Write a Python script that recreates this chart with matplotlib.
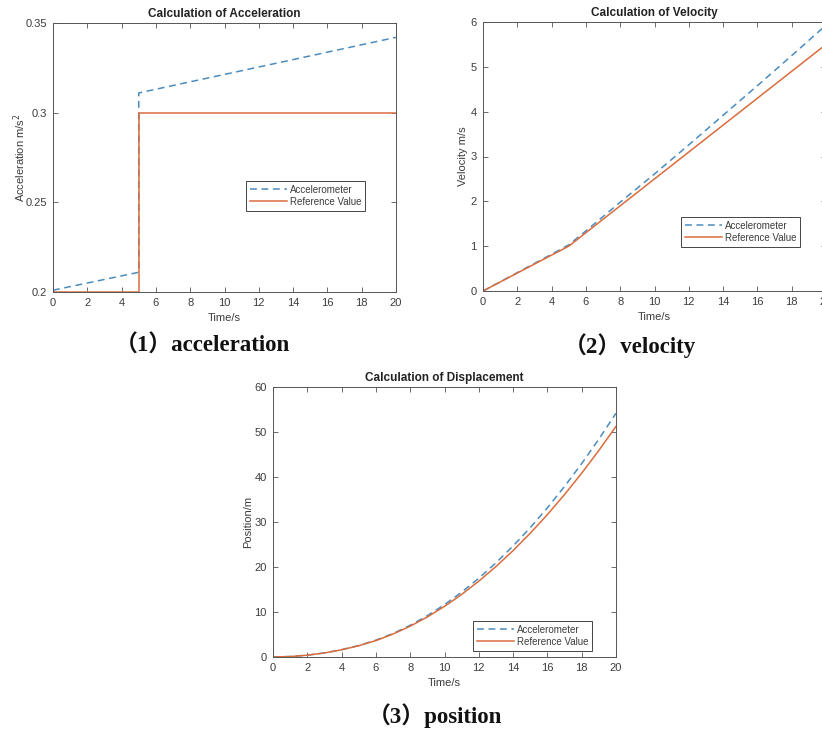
import matplotlib
matplotlib.use("Agg")
import matplotlib.pyplot as plt

W, H, DPI = 822, 729, 100

# ── Palette ──────────────────────────────────────────────────────────
BLUE   = "#4a8cc0"
ORANGE = "#da6c3c"
AX_COL = "#555555"
TXT    = "#3c3c3c"

plt.rcParams["font.family"] = ["Liberation Sans", "DejaVu Sans"]

# ── Data ─────────────────────────────────────────────────────────────
acc_t   = [0, 5, 5, 20]
acc_ref = [0.200, 0.200, 0.300, 0.300]
acc_mea = [0.201, 0.211, 0.311, 0.342]

vel_t   = [0, 2, 4, 5, 6, 8, 10, 12, 14, 16, 18, 20]
vel_ref = [0, 0.40, 0.80, 1.00, 1.30, 1.90, 2.50, 3.10, 3.70, 4.30, 4.90, 5.50]
vel_mea = [0, 0.41, 0.82, 1.03, 1.34, 1.98, 2.61, 3.26, 3.92, 4.58, 5.25, 5.93]

pos_t   = list(range(0, 21))
pos_ref = [0, 0.10, 0.40, 0.90, 1.60, 2.50, 3.65, 5.10, 6.85, 8.90, 11.25,
           13.90, 16.85, 20.10, 23.65, 27.50, 31.65, 36.10, 40.85, 45.90, 51.25]
pos_mea = [0, 0.10, 0.41, 0.91, 1.63, 2.55, 3.74, 5.23, 7.05, 9.18, 11.63,
           14.41, 17.50, 20.92, 24.67, 28.75, 33.16, 37.91, 42.99, 48.41, 54.17]

x_ticks = list(range(0, 21, 2))


def px_box(left, top, right, bottom):
    """pixel box -> figure fraction rect"""
    return [left / W, 1 - bottom / H, (right - left) / W, (bottom - top) / H]


def style_axes(ax, title, ylabel, yticks, ylim, ypad):
    ax.set_xlim(0, 20)
    ax.set_ylim(*ylim)
    ax.set_xticks(x_ticks)
    ax.set_yticks(yticks)
    ax.tick_params(direction="in", length=3.5, width=0.6, colors=AX_COL,
                   labelcolor=TXT, labelsize=8, top=True, right=True, pad=4.5)
    for sp in ax.spines.values():
        sp.set_color(AX_COL)
        sp.set_linewidth(0.7)
    ax.set_title(title, fontsize=8.5, fontweight="bold", color="#222222", pad=4)
    ax.set_xlabel("Time/s", fontsize=8, color=TXT, labelpad=3.5)
    ax.set_ylabel(ylabel, fontsize=8, color=TXT, labelpad=ypad)


def add_legend(ax, fig, left, top):
    leg = ax.legend(loc="upper left", bbox_to_anchor=(left / W, 1 - top / H),
                    bbox_transform=fig.transFigure, fontsize=7,
                    handlelength=3.8, handletextpad=0.3, borderpad=0.4,
                    labelspacing=0.2, fancybox=False, framealpha=1,
                    borderaxespad=0)
    leg.get_frame().set_edgecolor("#444444")
    leg.get_frame().set_linewidth(0.7)
    for t in leg.get_texts():
        t.set_color(TXT)


def plot_pair(ax, t, mea, ref):
    ax.plot(t, mea, color=BLUE, lw=1.1, dashes=(4.5, 3), label="Accelerometer")
    ax.plot(t, ref, color=ORANGE, lw=1.1, label="Reference Value")


fig = plt.figure(figsize=(W / DPI, H / DPI), dpi=DPI, facecolor="white")

# (1) acceleration
ax1 = fig.add_axes(px_box(53, 23, 396, 292))
plot_pair(ax1, acc_t, acc_mea, acc_ref)
style_axes(ax1, "Calculation of Acceleration", "Acceleration m/s$^2$",
           [0.2, 0.25, 0.3, 0.35], (0.2, 0.35), ypad=-2)
ax1.set_yticklabels(["0.2", "0.25", "0.3", "0.35"])
add_legend(ax1, fig, 246, 181)

# (2) velocity -- right edge runs off the picture, as in the source
ax2 = fig.add_axes(px_box(483, 22, 826, 291))
plot_pair(ax2, vel_t, vel_mea, vel_ref)
style_axes(ax2, "Calculation of Velocity", "Velocity m/s",
           list(range(0, 7)), (0, 6), ypad=1.5)
add_legend(ax2, fig, 681, 217)

# (3) position
ax3 = fig.add_axes(px_box(273, 387, 616, 657))
plot_pair(ax3, pos_t, pos_mea, pos_ref)
style_axes(ax3, "Calculation of Displacement", "Position/m",
           list(range(0, 61, 10)), (0, 60), ypad=1)
add_legend(ax3, fig, 473, 621)

# captions
cap_family = ["Liberation Serif", "Noto Sans CJK SC"]
captions = [("（1）acceleration", 202, 346),
            ("（2）velocity", 630, 346),
            ("（3）position", 435, 716)]
for text, cx, cy in captions:
    fig.text(cx / W, 1 - cy / H, text, ha="center", va="center",
             fontsize=16.5, fontweight="bold", family=cap_family, color="#111111")

fig.savefig("out.png", dpi=DPI, facecolor="white")
